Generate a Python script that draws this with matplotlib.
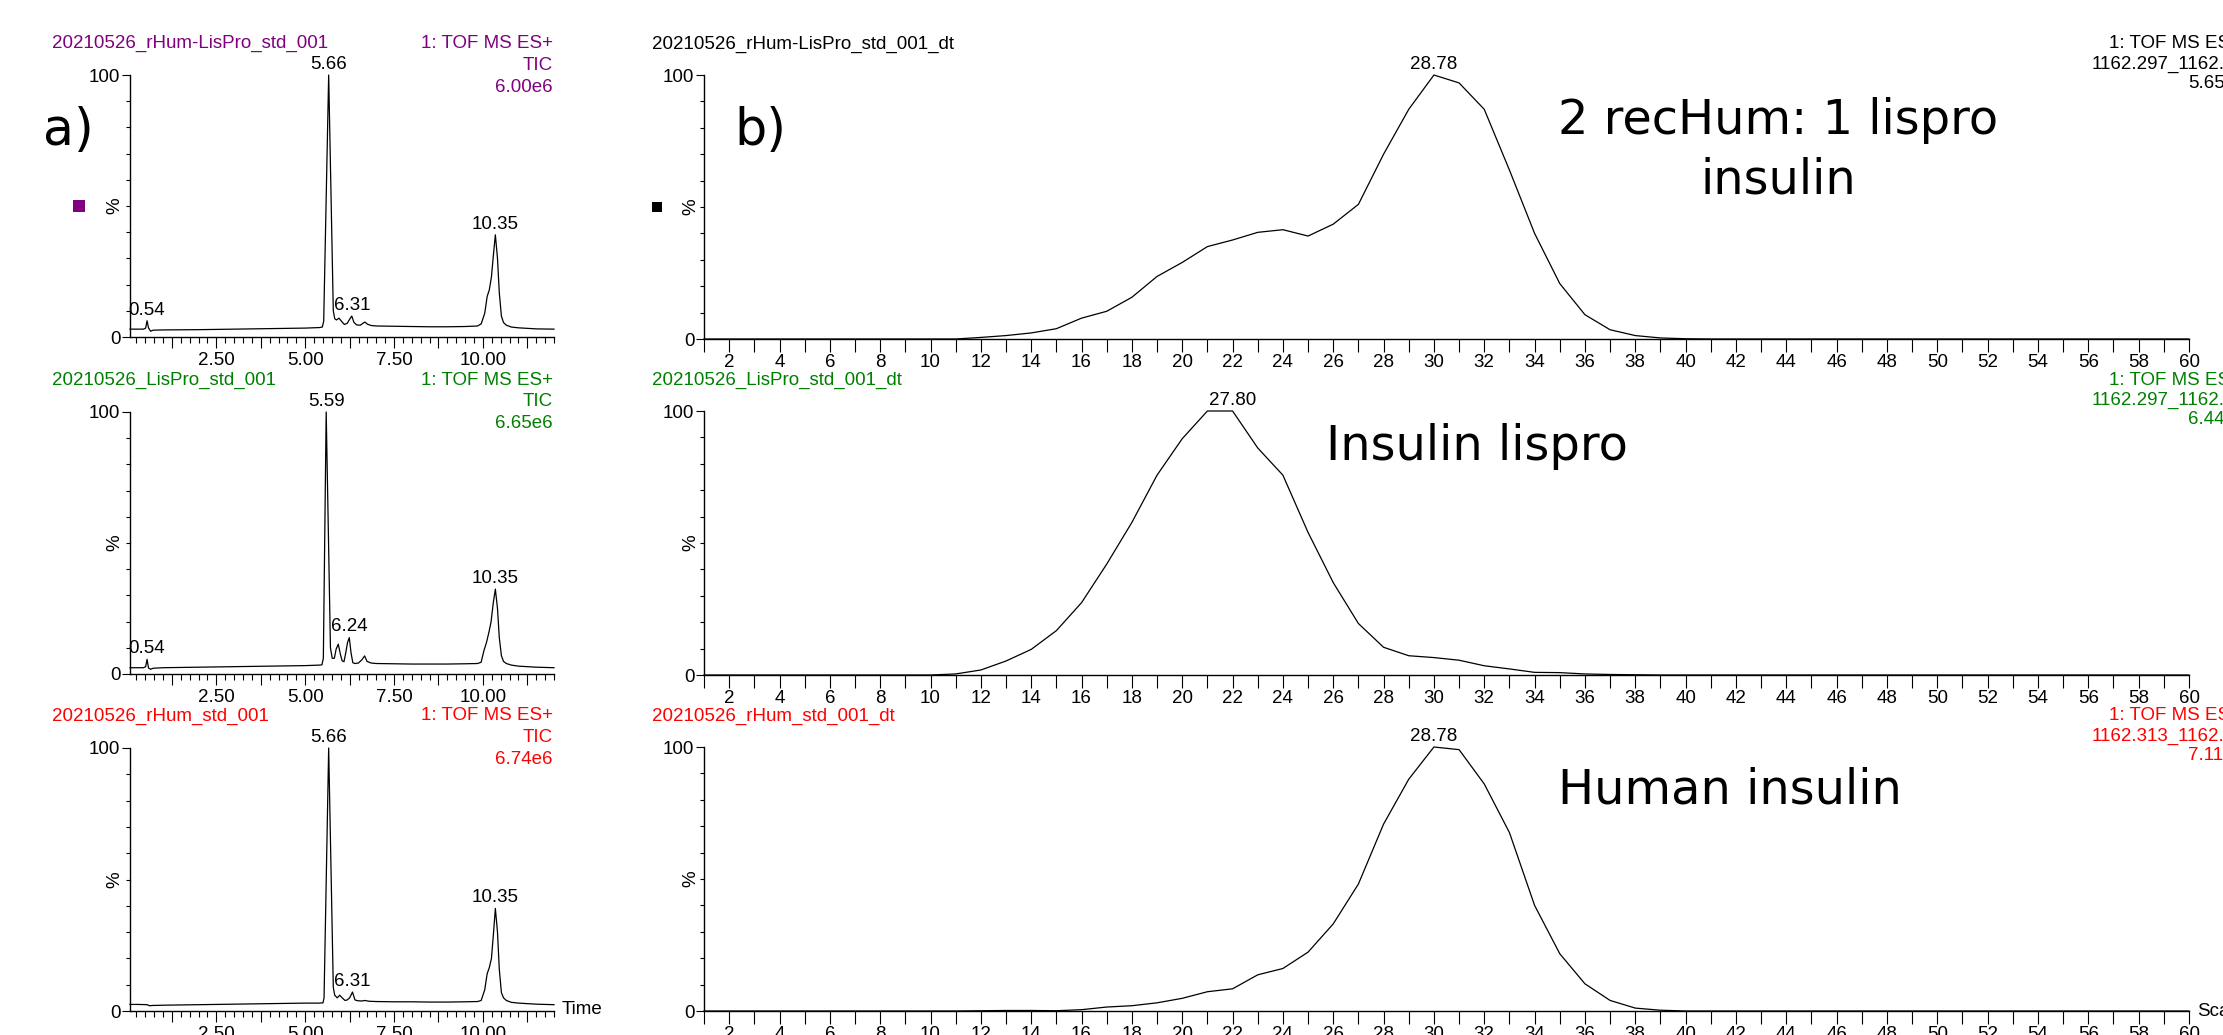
#!/usr/bin/env python3
# -*- coding: utf-8 -*-
"""
Insulin standards: a) TIC chromatograms, b) drift-time profiles (MassLynx-style).
Writes out.png (2223 x 1035 px).
"""
import matplotlib; matplotlib.use("Agg")
import matplotlib.pyplot as plt
from matplotlib.ticker import MultipleLocator, FuncFormatter
from matplotlib.patches import Rectangle

W, H, DPI = 2223, 1035, 100
PURPLE, GREEN, RED = "#800080", "#008000", "#ff0000"
SMALL = 13.5          # pt, MassLynx labels
BIG = 34.5            # pt, hand-added notes
PANEL = 36.5          # pt, a) / b)

plt.rcParams["font.family"] = ["Liberation Sans", "DejaVu Sans"]

# ---------------- a) TIC traces: time (min) vs % ----------------
mix_t = [0.07, 0.25, 0.45, 0.51, 0.55, 0.59, 0.65, 0.72, 1.00, 2.00,
         3.00, 4.00, 5.00, 5.40, 5.48, 5.52, 5.66, 5.79, 5.83, 5.88,
         5.95, 6.02, 6.10, 6.18, 6.25, 6.31, 6.37, 6.45, 6.55, 6.62,
         6.68, 6.75, 6.85, 7.00, 7.50, 8.00, 8.50, 9.00, 9.50, 9.85,
         9.95, 10.05, 10.12, 10.18, 10.24, 10.30, 10.35, 10.41, 10.46, 10.52,
         10.58, 10.66, 10.80, 11.00, 11.50, 12.00]
mix_y = [3.0, 3.0, 3.0, 3.4, 6.2, 3.5, 2.2, 2.6, 2.7, 2.8,
         3.0, 3.2, 3.4, 3.6, 3.8, 6.0, 100.0, 10.0, 7.0, 6.5,
         7.2, 6.0, 4.8, 5.2, 6.8, 8.0, 5.6, 4.6, 4.5, 5.2,
         5.7, 4.9, 4.4, 4.2, 4.1, 4.0, 3.9, 3.9, 4.0, 4.2,
         5.0, 9.0, 15.5, 18.0, 23.0, 32.0, 39.0, 30.0, 17.0, 8.0,
         5.5, 4.5, 3.8, 3.5, 3.1, 3.0]

lis_t = [0.07, 0.25, 0.45, 0.51, 0.55, 0.59, 0.65, 0.72, 1.00, 2.00,
         3.00, 4.00, 5.00, 5.40, 5.47, 5.51, 5.59, 5.71, 5.76, 5.82,
         5.87, 5.93, 5.99, 6.04, 6.09, 6.14, 6.19, 6.24, 6.29, 6.34,
         6.40, 6.50, 6.60, 6.67, 6.74, 6.85, 7.00, 7.50, 8.00, 8.50,
         9.00, 9.50, 9.85, 9.95, 10.03, 10.10, 10.17, 10.23, 10.29, 10.35,
         10.41, 10.46, 10.52, 10.58, 10.66, 10.80, 11.00, 11.50, 12.00]
lis_y = [2.4, 2.4, 2.4, 2.8, 5.6, 2.3, 1.8, 2.2, 2.4, 2.6,
         2.8, 3.0, 3.2, 3.4, 3.5, 6.0, 100.0, 10.0, 6.0, 6.0,
         9.5, 11.4, 7.5, 5.0, 4.7, 8.0, 12.0, 13.9, 8.0, 4.3,
         4.0, 4.2, 5.5, 6.9, 4.8, 4.2, 4.0, 3.9, 3.8, 3.8,
         3.8, 3.9, 4.0, 4.5, 9.0, 12.0, 16.0, 20.0, 27.0, 32.4,
         25.0, 14.0, 7.0, 4.8, 4.0, 3.4, 3.0, 2.6, 2.4]

hum_t = [0.07, 0.30, 0.55, 0.62, 0.70, 1.00, 2.00, 3.00, 4.00, 5.00,
         5.40, 5.50, 5.53, 5.66, 5.79, 5.83, 5.90, 5.97, 6.04, 6.12,
         6.18, 6.25, 6.33, 6.40, 6.48, 6.58, 6.68, 6.80, 7.00, 7.50,
         8.00, 8.50, 9.00, 9.50, 9.85, 9.95, 10.05, 10.12, 10.18, 10.24,
         10.30, 10.35, 10.41, 10.46, 10.52, 10.58, 10.66, 10.80, 11.00, 11.50,
         12.00]
hum_y = [2.5, 2.5, 2.4, 2.0, 2.1, 2.2, 2.4, 2.6, 2.8, 3.0,
         3.0, 3.1, 5.0, 100.0, 9.0, 6.0, 5.0, 6.0, 5.0, 4.0,
         4.2, 5.0, 7.2, 4.2, 3.9, 3.8, 4.0, 3.7, 3.6, 3.5,
         3.5, 3.4, 3.4, 3.5, 3.6, 4.0, 8.0, 14.2, 16.5, 20.0,
         30.0, 39.0, 30.0, 16.0, 7.0, 5.0, 4.0, 3.3, 3.0, 2.6,
         2.4]

tic_names = ["20210526_rHum-LisPro_std_001", "20210526_LisPro_std_001",
             "20210526_rHum_std_001"]
tic_scale = ["6.00e6", "6.65e6", "6.74e6"]
tic_peaks = [[0.54, 5.66, 6.31, 10.35], [0.54, 5.59, 6.24, 10.35], [5.66, 6.31, 10.35]]

# ---------------- b) drift-time profiles: scan vs % ----------------
scans = list(range(1, 61))
mix_dt = [0, 0, 0, 0, 0, 0, 0, 0, 0, 0,
          0, 0.6, 1.3, 2.3, 3.9, 7.9, 10.5, 15.8, 23.7, 29.0,
          35.0, 37.5, 40.4, 41.4, 39.0, 43.5, 51.0, 70.0, 87.0, 100.0,
          97.0, 87.0, 64.0, 40.0, 21.0, 9.2, 3.5, 1.3, 0.4, 0.1,
          0, 0, 0, 0, 0, 0, 0, 0, 0, 0,
          0, 0, 0, 0, 0, 0, 0, 0, 0, 0]
lis_dt = [0, 0, 0, 0, 0, 0, 0, 0, 0, 0,
          0.4, 1.9, 5.3, 9.7, 16.8, 27.4, 42.0, 57.8, 75.7, 89.5,
          100.0, 100.0, 86.0, 75.7, 54.0, 35.0, 19.5, 10.5, 7.3, 6.6,
          5.6, 3.5, 2.3, 1.0, 0.9, 0.4, 0.2, 0.1, 0, 0,
          0, 0, 0, 0, 0, 0, 0, 0, 0, 0,
          0, 0, 0, 0, 0, 0, 0, 0, 0, 0]
hum_dt = [0, 0, 0, 0, 0, 0, 0, 0, 0, 0,
          0, 0.1, 0.2, 0.2, 0.1, 0.5, 1.5, 2.0, 3.1, 4.8,
          7.3, 8.4, 13.7, 16.1, 22.3, 33.0, 48.1, 70.8, 87.8, 100.0,
          99.0, 86.0, 67.6, 40.0, 21.7, 10.3, 4.0, 1.1, 0.3, 0,
          0, 0, 0, 0, 0, 0, 0, 0, 0, 0,
          0, 0, 0, 0, 0, 0, 0, 0, 0, 0]

dt_names = ["20210526_rHum-LisPro_std_001_dt", "20210526_LisPro_std_001_dt",
            "20210526_rHum_std_001_dt"]
dt_mz = ["1162.297_1162.", "1162.297_1162.", "1162.313_1162."]
dt_scale = ["5.65e4", "6.44e4", "7.11e4"]
dt_peak_scan = [30, 22, 30]
dt_peak_text = ["28.78", "27.80", "28.78"]
dt_notes = ["2 recHum: 1 lispro\ninsulin", "Insulin lispro", "Human insulin"]

colors = [PURPLE, GREEN, RED]

# ---------------- layout (pixels) ----------------
A_X = (130, 554)                       # left/right of TIC axes
B_X = (704, 2189)                      # left/right of drift axes
A_ROWS = [(75, 337), (412, 674), (748, 1011)]   # (100 %, 0 %) pixel rows
B_ROWS = [(75, 339), (411, 675), (747, 1011)]

fig = plt.figure(figsize=(W / DPI, H / DPI), dpi=DPI)


def px_axes(xs, ys):
    (l, r), (t, b) = xs, ys
    return fig.add_axes([l / W, 1 - b / H, (r - l) / W, (b - t) / H])


def ftext(x, y, s, **kw):
    return fig.text(x / W, 1 - y / H, s, **kw)


def base_style(ax):
    for s in ("top", "right"):
        ax.spines[s].set_visible(False)
    for s in ("left", "bottom"):
        ax.spines[s].set_linewidth(1.0)
    ax.set_ylim(0, 100)
    ax.set_yticks([0, 100])
    ax.set_yticklabels(["0", "100"])
    ax.yaxis.set_minor_locator(MultipleLocator(10))
    ax.tick_params(axis="y", which="major", length=6, width=0.8, pad=1, labelsize=SMALL)
    ax.tick_params(axis="y", which="minor", length=3, width=0.8)
    ax.patch.set_alpha(0)


def peak_label(ax, x, y, s):
    ax.annotate(s, (x, y), xytext=(0, 1.5), textcoords="offset points",
                ha="center", va="bottom", fontsize=SMALL, annotation_clip=False)


# ---------------- a) chromatograms ----------------
tic_t = [mix_t, lis_t, hum_t]
tic_y = [mix_y, lis_y, hum_y]
for i in range(3):
    ax = px_axes(A_X, A_ROWS[i])
    base_style(ax)
    ax.plot(tic_t[i], tic_y[i], color="k", lw=0.9, clip_on=False)
    ax.set_xlim(0.07, 12.0)
    ax.xaxis.set_major_locator(MultipleLocator(1.25))
    ax.xaxis.set_minor_locator(MultipleLocator(0.25))
    ax.xaxis.set_major_formatter(FuncFormatter(
        lambda v, p: f"{v:.2f}" if v > 0 and abs(v / 2.5 - round(v / 2.5)) < 1e-6 else ""))
    ax.tick_params(axis="x", which="major", length=8, width=0.8, pad=3, labelsize=SMALL)
    ax.tick_params(axis="x", which="minor", length=4, width=0.8)
    for pk in tic_peaks[i]:
        j = min(range(len(tic_t[i])), key=lambda k: abs(tic_t[i][k] - pk))
        peak_label(ax, pk, tic_y[i][j], f"{pk:.2f}")

    top, bot = A_ROWS[i]
    ty = top - 32
    c = colors[i]
    ftext(52, ty, tic_names[i], color=c, fontsize=SMALL, va="center")
    ftext(553, ty, "1: TOF MS ES+", color=c, fontsize=SMALL, va="center", ha="right")
    ftext(553, ty + 22, "TIC", color=c, fontsize=SMALL, va="center", ha="right")
    ftext(553, ty + 44, tic_scale[i], color=c, fontsize=SMALL, va="center", ha="right")
    ftext(115, (top + bot) / 2, "%", fontsize=SMALL, rotation=90, va="center", ha="center")

ftext(562, 1010, "Time", fontsize=SMALL, va="center")

# ---------------- b) drift-time profiles ----------------
dt_y = [mix_dt, lis_dt, hum_dt]
for i in range(3):
    ax = px_axes(B_X, B_ROWS[i])
    base_style(ax)
    ax.plot(scans, dt_y[i], color="k", lw=0.9, clip_on=False)
    ax.set_xlim(1, 60)
    ax.xaxis.set_major_locator(MultipleLocator(1))
    ax.xaxis.set_major_formatter(FuncFormatter(
        lambda v, p: f"{int(round(v))}" if int(round(v)) % 2 == 0 else ""))
    ax.tick_params(axis="x", which="major", length=9, width=0.8, pad=2, labelsize=SMALL)
    k = dt_peak_scan[i]
    peak_label(ax, k, dt_y[i][scans.index(k)], dt_peak_text[i])

    top, bot = B_ROWS[i]
    ty = top - 31
    c = "k" if i == 0 else colors[i]
    ftext(652, ty, dt_names[i], color=c, fontsize=SMALL, va="center")
    ftext(2109, ty, "1: TOF MS ES+", color=c, fontsize=SMALL, va="center")
    ftext(2092, ty + 20, dt_mz[i], color=c, fontsize=SMALL, va="center")
    ftext(2188, ty + 40, dt_scale[i], color=c, fontsize=SMALL, va="center")
    ftext(691, (top + bot) / 2, "%", fontsize=SMALL, rotation=90, va="center", ha="center")

ftext(2197, 1011, "Scan", fontsize=SMALL, va="center")

# hand-added annotations
note = dict(family="DejaVu Sans", fontsize=BIG, color="k")
panel = dict(family="DejaVu Sans", fontsize=PANEL, color="k")
ftext(43, 131, "a)", va="center", **panel)
ftext(734, 131, "b)", va="center", **panel)
ftext(1778, 150, dt_notes[0], ha="center", va="center", linespacing=1.33, **note)
ftext(1326, 447, dt_notes[1], va="center", **note)
ftext(1558, 790, dt_notes[2], va="center", **note)

# trace-colour markers next to the top panels
fig.add_artist(Rectangle((73 / W, 1 - 212 / H), 12 / W, 12 / H,
                         transform=fig.transFigure, color=PURPLE, lw=0))
fig.add_artist(Rectangle((652 / W, 1 - 212 / H), 10 / W, 10 / H,
                         transform=fig.transFigure, color="k", lw=0))

fig.savefig("out.png", dpi=DPI)
print("[out] out.png")
